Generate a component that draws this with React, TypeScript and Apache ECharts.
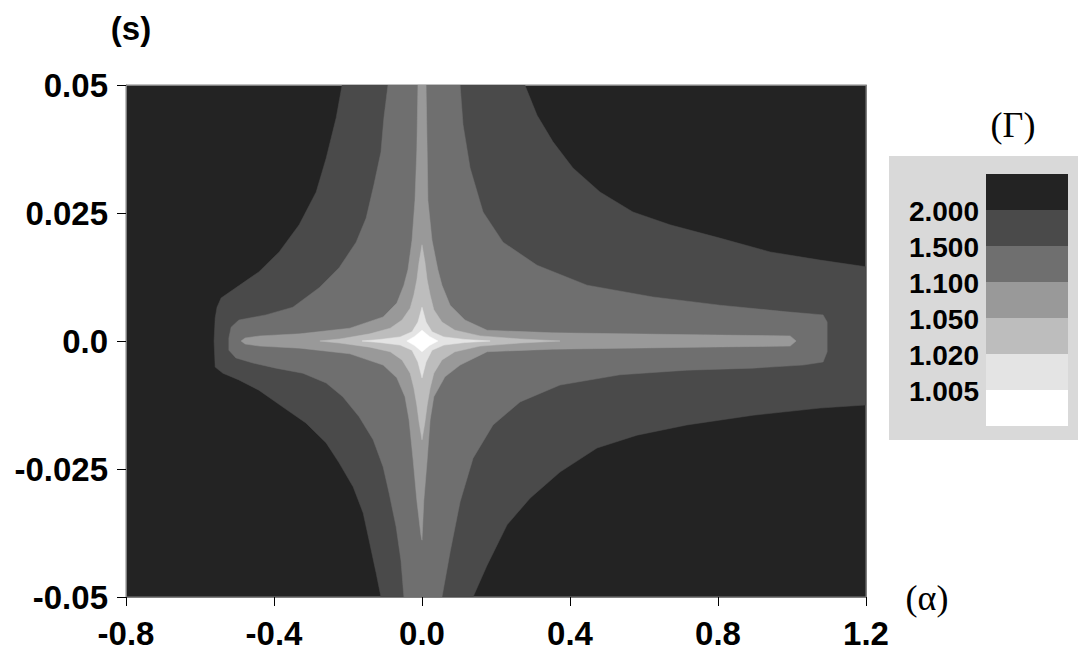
import React, { useEffect, useRef } from "react";
import * as echarts from "echarts";

// Axis ticks
const xTickValues = [-0.8, -0.4, 0.0, 0.4, 0.8, 1.2];
const xTickLabels = ["-0.8", "-0.4", "0.0", "0.4", "0.8", "1.2"];
const yTickValues = [-0.05, -0.025, 0.0, 0.025, 0.05];
const yTickLabels = ["-0.05", "-0.025", "0.0", "0.025", "0.05"];

// Contour levels (Γ)
const levelColors = ["#232323", "#4a4a4a", "#6f6f6f", "#999999", "#bdbdbd", "#e4e4e4", "#ffffff"];
const levelLabels = ["2.000", "1.500", "1.100", "1.050", "1.020", "1.005"];

// Region boundaries [α, s]
const regionL2: number[][] = [
  [-0.216, 0.05], [-0.232, 0.0436], [-0.259, 0.0357], [-0.286, 0.0291], [-0.332, 0.0227],
  [-0.386, 0.0174], [-0.441, 0.0135], [-0.511, 0.01], [-0.543, 0.0084], [-0.554, 0.0066],
  [-0.559, 0.0045], [-0.562, 0.0], [-0.559, -0.0051], [-0.538, -0.0063], [-0.495, -0.0076],
  [-0.441, -0.0096], [-0.376, -0.0129], [-0.314, -0.016], [-0.259, -0.0199], [-0.224, -0.0238],
  [-0.186, -0.0285], [-0.159, -0.0336], [-0.143, -0.0389], [-0.124, -0.0453], [-0.111, -0.05],
  [0.138, -0.05], [0.176, -0.0438], [0.23, -0.0359], [0.292, -0.0307], [0.373, -0.0256],
  [0.473, -0.0209], [0.581, -0.0184], [0.716, -0.0164], [0.895, -0.0145], [1.076, -0.0131],
  [1.2, -0.0125], [1.2, 0.0145], [1.076, 0.0158], [0.941, 0.0174], [0.805, 0.0201],
  [0.67, 0.0227], [0.57, 0.0252], [0.481, 0.0291], [0.408, 0.0338], [0.354, 0.0389],
  [0.311, 0.0441], [0.278, 0.05],
];
const regionL3: number[][] = [
  [-0.092, 0.05], [-0.103, 0.0436], [-0.111, 0.0369], [-0.13, 0.0305], [-0.151, 0.024],
  [-0.178, 0.0193], [-0.224, 0.0143], [-0.278, 0.0104], [-0.349, 0.0066], [-0.422, 0.0051],
  [-0.495, 0.0041], [-0.516, 0.0027], [-0.522, 0.0006], [-0.522, -0.0018], [-0.503, -0.0033],
  [-0.457, -0.0043], [-0.395, -0.0053], [-0.322, -0.0063], [-0.259, -0.0082], [-0.214, -0.0109],
  [-0.17, -0.0148], [-0.132, -0.0193], [-0.105, -0.0246], [-0.089, -0.0297], [-0.07, -0.0363],
  [-0.057, -0.0428], [-0.049, -0.05], [0.054, -0.05], [0.076, -0.0412], [0.103, -0.0314],
  [0.138, -0.0229], [0.192, -0.0164], [0.265, -0.0119], [0.373, -0.0086], [0.535, -0.0066],
  [0.716, -0.0057], [0.895, -0.0053], [1.03, -0.0047], [1.084, -0.0041], [1.095, -0.0021],
  [1.095, 0.0037], [1.084, 0.0051], [0.986, 0.0057], [0.805, 0.007], [0.624, 0.0086],
  [0.446, 0.0109], [0.311, 0.0148], [0.219, 0.0193], [0.165, 0.0252], [0.13, 0.0338],
  [0.111, 0.0422], [0.103, 0.05],
];
const regionL4: number[][] = [
  [-0.011, 0.05], [-0.014, 0.0373], [-0.019, 0.0275], [-0.027, 0.0197], [-0.038, 0.0139],
  [-0.049, 0.0109], [-0.068, 0.0074], [-0.105, 0.0047], [-0.195, 0.0025], [-0.33, 0.0014],
  [-0.438, 0.001], [-0.478, 0.0006], [-0.489, 0.0], [-0.478, -0.0006], [-0.438, -0.001],
  [-0.33, -0.0014], [-0.195, -0.0025], [-0.105, -0.0047], [-0.068, -0.0072], [-0.046, -0.0109],
  [-0.035, -0.0154], [-0.024, -0.0232], [-0.014, -0.0311], [-0.003, -0.0379], [0.0, -0.0389],
  [0.005, -0.0311], [0.014, -0.0232], [0.022, -0.0154], [0.032, -0.0109], [0.062, -0.007],
  [0.103, -0.0047], [0.176, -0.0021], [0.354, -0.0016], [0.751, -0.0012], [0.995, -0.001],
  [1.011, 0.0], [0.995, 0.001], [0.751, 0.0012], [0.354, 0.0016], [0.176, 0.0021],
  [0.116, 0.0041], [0.076, 0.007], [0.054, 0.0109], [0.043, 0.0139], [0.027, 0.0197],
  [0.016, 0.0275], [0.014, 0.0373], [0.011, 0.05],
];
const regionL5: number[][] = [
  [0.0, 0.0188], [-0.008, 0.0154], [-0.014, 0.0119], [-0.022, 0.009], [-0.032, 0.0064],
  [-0.054, 0.0041], [-0.086, 0.0025], [-0.141, 0.0014], [-0.222, 0.0004], [-0.276, 0.0],
  [-0.222, -0.0004], [-0.141, -0.0012], [-0.086, -0.0021], [-0.054, -0.0037], [-0.032, -0.0063],
  [-0.022, -0.0092], [-0.014, -0.0125], [-0.008, -0.0158], [0.0, -0.0193], [0.008, -0.0158],
  [0.014, -0.0125], [0.022, -0.0092], [0.032, -0.0063], [0.054, -0.0037], [0.089, -0.0021],
  [0.157, -0.001], [0.265, -0.0004], [0.373, 0.0], [0.265, 0.0004], [0.157, 0.001],
  [0.089, 0.0021], [0.054, 0.0037], [0.032, 0.0061], [0.022, 0.009], [0.014, 0.0119],
  [0.008, 0.0154],
];
const regionL6: number[][] = [
  [0.0, 0.0066], [-0.011, 0.0037], [-0.027, 0.0018], [-0.059, 0.0008], [-0.114, 0.0003],
  [-0.162, 0.0], [-0.114, -0.0003], [-0.059, -0.0008], [-0.027, -0.0018], [-0.011, -0.0041],
  [0.0, -0.0072], [0.011, -0.0041], [0.027, -0.0018], [0.059, -0.0008], [0.116, -0.0003],
  [0.184, 0.0], [0.116, 0.0003], [0.059, 0.0008], [0.027, 0.0018], [0.011, 0.0037],
];
const regionL7: number[][] = [
  [0.0, 0.0021], [0.02, 0.0009], [0.043, 0.0], [0.02, -0.0009], [0.0, -0.0021],
  [-0.02, -0.0009], [-0.041, 0.0], [-0.02, 0.0009],
];

const regions = [
  { points: regionL2, color: levelColors[1] },
  { points: regionL3, color: levelColors[2] },
  { points: regionL4, color: levelColors[3] },
  { points: regionL5, color: levelColors[4] },
  { points: regionL6, color: levelColors[5] },
  { points: regionL7, color: levelColors[6] },
];

const SANS = '"Liberation Sans", Arial, Helvetica, sans-serif';
const SERIF = '"Liberation Serif", "DejaVu Serif", "Times New Roman", serif';

function fmt(values: number[], labels: string[]) {
  return (v: number) => {
    const i = values.findIndex((t) => Math.abs(t - v) < 1e-9);
    return i >= 0 ? labels[i] : "";
  };
}

export default function App() {
  const ref = useRef<HTMLDivElement>(null);
  useEffect(() => {
    if (!ref.current) return;
    const chart = echarts.init(ref.current, null, { renderer: "svg" });
    const axisLabelBase = { color: "#000", fontSize: 33, fontWeight: "bold" as const, fontFamily: SANS };
    const option: any = {
      animation: false,
      backgroundColor: "#ffffff",
      grid: {
        left: 126, top: 85, width: 740, height: 512,
        show: true, backgroundColor: levelColors[0], borderColor: "#808080", borderWidth: 1,
      },
      xAxis: [
        {
          type: "value", min: -0.8, max: 1.2, interval: 0.4, position: "bottom",
          axisLine: { show: true, onZero: false, lineStyle: { color: "#808080", width: 1 } },
          axisTick: { show: true, length: 9, lineStyle: { color: "#000", width: 1 } },
          splitLine: { show: false },
          axisLabel: { ...axisLabelBase, margin: 20, formatter: fmt(xTickValues, xTickLabels) },
        },
        {
          type: "value", min: -0.8, max: 1.2, position: "top",
          axisLine: { show: true, onZero: false, lineStyle: { color: "#808080", width: 1 } },
          axisTick: { show: false }, axisLabel: { show: false }, splitLine: { show: false },
        },
      ],
      yAxis: [
        {
          type: "value", min: -0.05, max: 0.05, interval: 0.025, position: "left",
          axisLine: { show: true, onZero: false, lineStyle: { color: "#808080", width: 1 } },
          axisTick: { show: true, length: 9, lineStyle: { color: "#000", width: 1 } },
          splitLine: { show: false },
          axisLabel: { ...axisLabelBase, margin: 18, formatter: fmt(yTickValues, yTickLabels) },
        },
        {
          type: "value", min: -0.05, max: 0.05, position: "right",
          axisLine: { show: true, onZero: false, lineStyle: { color: "#808080", width: 1 } },
          axisTick: { show: false }, axisLabel: { show: false }, splitLine: { show: false },
        },
      ],
      series: [
        {
          type: "custom",
          coordinateSystem: "cartesian2d",
          xAxisIndex: 0,
          yAxisIndex: 0,
          silent: true,
          clip: true,
          data: regions.map((r, i) => [r.points[0][0], r.points[0][1], i]),
          renderItem: (params: any, api: any) => {
            const r = regions[params.dataIndex];
            return {
              type: "polygon",
              shape: { points: r.points.map((p) => api.coord(p)) },
              style: { fill: r.color, stroke: r.color, lineWidth: 0.5 },
            };
          },
        },
      ],
      graphic: [
        { type: "rect", shape: { x: 889, y: 156, width: 189, height: 284 }, style: { fill: "#d9d9d9" } },
        ...levelColors.map((c, i) => ({
          type: "rect",
          shape: { x: 986, y: 174 + i * 36, width: 82, height: 36 },
          style: { fill: c },
        })),
        ...levelLabels.map((t, i) => ({
          type: "text",
          x: 979,
          y: 211 + i * 36,
          style: { text: t, align: "right", verticalAlign: "middle", font: `bold 28px ${SANS}`, fill: "#000" },
        })),
        {
          type: "text", x: 1013, y: 125,
          style: { text: "(Γ)", align: "center", verticalAlign: "middle", font: `36px ${SERIF}`, fill: "#000" },
        },
        {
          type: "text", x: 927, y: 598,
          style: { text: "(α)", align: "center", verticalAlign: "middle", font: `36px ${SERIF}`, fill: "#000" },
        },
        {
          type: "text", x: 131, y: 28,
          style: { text: "(s)", align: "center", verticalAlign: "middle", font: `bold 33px ${SANS}`, fill: "#000" },
        },
      ],
    };
    chart.setOption(option);
    return () => chart.dispose();
  }, []);
  return (
    <div
      ref={ref}
      style={{ position: "absolute", left: 0, top: 0, width: 1078, height: 661, background: "#fff" }}
    />
  );
}
